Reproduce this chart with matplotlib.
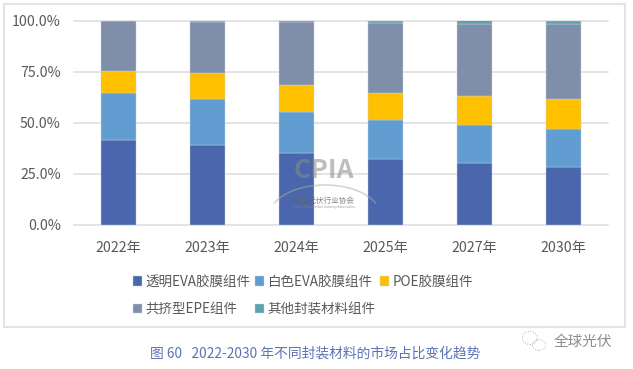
import numpy as np
import matplotlib
matplotlib.use('Agg')
import matplotlib.pyplot as plt
from matplotlib.patches import Rectangle, Arc, Ellipse

plt.rcParams['font.family'] = ['Noto Sans CJK SC', 'DejaVu Sans']

years = ['2022年', '2023年', '2024年', '2025年', '2027年', '2030年']
clear_eva = [41.7, 39.3, 35.2, 32.4, 30.5, 28.5]
white_eva = [22.8, 22.3, 20.0, 18.9, 18.5, 18.5]
poe = [10.9, 12.7, 13.4, 13.2, 14.0, 14.6]
epe = [24.4, 25.2, 30.6, 34.4, 35.5, 36.8]
other = [0.2, 0.5, 0.8, 1.1, 1.5, 1.6]

names = ['透明EVA胶膜组件', '白色EVA胶膜组件', 'POE胶膜组件', '共挤型EPE组件', '其他封装材料组件']
colors = ['#4A66AC', '#629DD1', '#FFC000', '#7F8FA9', '#5AA2AE']
series = [clear_eva, white_eva, poe, epe, other]

W, H = 633, 369
fig = plt.figure(figsize=(W / 100, H / 100), dpi=100)

# outer chart frame
fig.patches.append(Rectangle((4 / W, 1 - 327 / H), 621 / W, 323 / H, transform=fig.transFigure,
                             fill=False, edgecolor='#E3E3E3', linewidth=1.5))

ax = fig.add_axes([74 / W, 1 - 225 / H, 534 / W, 204.5 / H])
x = np.arange(len(years))
bottom = np.zeros(len(years))
handles = []
for vals, name, col in zip(series, names, colors):
    bars = ax.bar(x, vals, 0.4, bottom=bottom, color=col, label=name, edgecolor='#C5D3E8', linewidth=0.3, zorder=3)
    handles.append(bars)
    bottom += np.array(vals)

ax.set_xlim(-0.5, 5.5)
ax.set_ylim(0, 100)
ax.set_yticks([0, 25, 50, 75, 100])
ax.set_yticklabels(['0.0%', '25.0%', '50.0%', '75.0%', '100.0%'])
ax.set_xticks(x)
ax.set_xticklabels(years)
ax.tick_params(axis='y', length=0, pad=9.5, labelsize=10.2, labelcolor='#595959')
ax.tick_params(axis='x', length=0, pad=11.5, labelsize=10.2, labelcolor='#595959')
ax.grid(axis='y', color='#DDDDDD', linewidth=1.1, zorder=0, clip_on=False)
ax.set_axisbelow(True)
for s in ax.spines.values():
    s.set_visible(False)

# column-first fill, so rows read 1 2 3 / 4 5
order = [0, 3, 1, 4, 2]
fig.legend([handles[i] for i in order], [names[i] for i in order], ncol=3,
           loc='center left', bbox_to_anchor=(133 / W, 1 - 295.5 / H), frameon=False,
           fontsize=9.75, labelcolor='#595959', handlelength=0.67, handleheight=0.67,
           handletextpad=0.22, columnspacing=0.37, labelspacing=1.0, borderpad=0, borderaxespad=0)

# watermark over the bars
fig.text(324 / W, 1 - 171 / H, 'CPIA', ha='center', va='center', fontsize=19, fontweight='bold',
         color='#8A8A8A', alpha=0.55, zorder=10)
fig.add_artist(Arc((325 / W, 1 - 215 / H), 110 / W, 60 / H, theta1=21, theta2=159, transform=fig.transFigure,
                   color='#AAAAAA', alpha=0.5, linewidth=1.2))
fig.text(324 / W, 1 - 201 / H, '中国光伏行业协会', ha='center', va='center', fontsize=5.5,
         color='#666666', alpha=0.8, zorder=10)
fig.text(324 / W, 1 - 207 / H, 'China Photovoltaic Industry Association', ha='center', va='center', fontsize=2.4,
         color='#888888', alpha=0.8, zorder=10)

fig.text(315 / W, 1 - 354 / H, '图 60   2022-2030 年不同封装材料的市场占比变化趋势', ha='center', va='center',
         fontsize=9.9, color='#5B73B5')

# wechat-style mark and name at bottom right
fig.add_artist(Ellipse((530 / W, 1 - 338 / H), 15 / W, 13 / H, transform=fig.transFigure, fill=False,
                       edgecolor='#B0B0B0', linewidth=0.7, linestyle=':'))
fig.add_artist(Ellipse((539 / W, 1 - 345 / H), 13 / W, 11 / H, transform=fig.transFigure, fill=False,
                       edgecolor='#B0B0B0', linewidth=0.7, linestyle=':'))
fig.text(582.5 / W, 1 - 342 / H, '全球光伏', ha='center', va='center', fontsize=10.5, color='#8C8C8C')

fig.savefig('out.png', dpi=100)
